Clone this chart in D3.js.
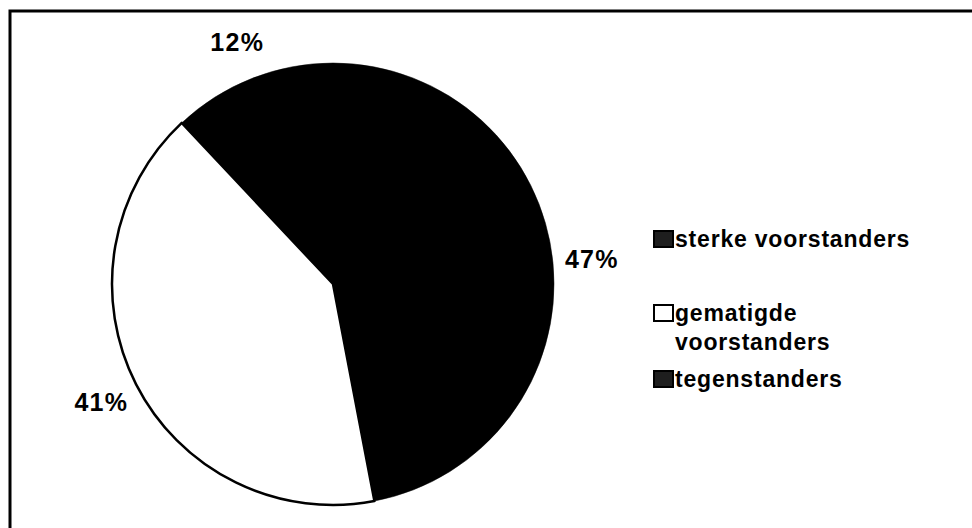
<!DOCTYPE html>
<html>
    <head>
        <meta charset="utf-8" />
        <title>Voorstanders en tegenstanders</title>
        <script src="https://d3js.org/d3.v7.min.js"></script>
        <style>
            body {
                margin: 0px;
                background: white;
            }

            text {
                font-family: "Liberation Sans", Arial, sans-serif;
                fill: black;
            }

            .label {
                font-size: 25px;
                font-weight: bold;
                letter-spacing: 1.3px;
            }

            .legend text {
                font-size: 23px;
                font-weight: bold;
                letter-spacing: 0.8px;
            }
        </style>
    </head>
    <body>
        <svg id="chart"></svg>
        <script>

        // data, in the order the slices run clockwise from 12 o'clock
        var categories = ["sterke voorstanders", "gematigde voorstanders", "tegenstanders"];
        var values = [47, 41, 12];
        var labels = ["47%", "41%", "12%"];
        var fills = ["black", "white", "black"];

        // legend order and wrapped text
        var legendOrder = [0, 1, 2];
        var legendLines = [["sterke voorstanders"], ["gematigde", "voorstanders"], ["tegenstanders"]];
        var legendFills = ["#1e1e1e", "white", "#1e1e1e"];

        var width = 972;
        var height = 528;

        var cx = 333;
        var cy = 284;
        var radius = 221;
        var labelRadius = 260;

        var svg = d3.select("#chart")
            .attr("width", width)
            .attr("height", height);

        // frame: only top and left edges show in the picture
        svg.append("path")
            .attr("d", "M10," + height + "V11H" + width)
            .attr("fill", "none")
            .attr("stroke", "black")
            .attr("stroke-width", 3);

        var data = values.map(function(v, i) {
            return { name: categories[i], value: v, label: labels[i], fill: fills[i] };
        });

        var pie = d3.pie()
            .sort(null)
            .value(function(d) { return d.value; });

        var arc = d3.arc()
            .innerRadius(0)
            .outerRadius(radius);

        var labelArc = d3.arc()
            .innerRadius(labelRadius)
            .outerRadius(labelRadius);

        var g = svg.append("g")
            .attr("transform", "translate(" + cx + "," + cy + ")");

        var arcs = pie(data);

        g.selectAll(".slice")
            .data(arcs)
            .enter().append("path")
            .attr("class", "slice")
            .attr("d", arc)
            .attr("fill", function(d) { return d.data.fill; })
            .attr("stroke", "black")
            .attr("stroke-width", function(d) { return d.data.fill == "white" ? 2.5 : 0.5; })
            .attr("stroke-linejoin", "round");

        g.selectAll(".label")
            .data(arcs)
            .enter().append("text")
            .attr("class", "label")
            .attr("x", function(d) { return labelArc.centroid(d)[0]; })
            .attr("y", function(d) { return labelArc.centroid(d)[1]; })
            .attr("dy", "0.35em")
            .attr("text-anchor", "middle")
            .text(function(d) { return d.data.label; });

        // legend
        var legendX = 653;
        var legendY = [247, 321, 387];
        var lineHeight = 29;
        var boxW = 21;
        var boxH = 16;

        var legend = svg.append("g").attr("class", "legend");

        var items = legend.selectAll(".item")
            .data(legendOrder)
            .enter().append("g")
            .attr("class", "item")
            .attr("transform", function(d, i) {
                return "translate(" + legendX + "," + legendY[i] + ")";
            });

        items.append("rect")
            .attr("x", 1)
            .attr("y", -boxH)
            .attr("width", boxW - 2)
            .attr("height", boxH)
            .attr("fill", function(d) { return legendFills[d]; })
            .attr("stroke", "black")
            .attr("stroke-width", 2);

        items.each(function(d) {
            var t = d3.select(this).append("text")
                .attr("x", boxW + 1)
                .attr("y", 0);
            legendLines[d].forEach(function(line, j) {
                t.append("tspan")
                    .attr("x", boxW + 1)
                    .attr("dy", j == 0 ? 0 : lineHeight)
                    .text(line);
            });
        });

        </script>
    </body>
</html>
